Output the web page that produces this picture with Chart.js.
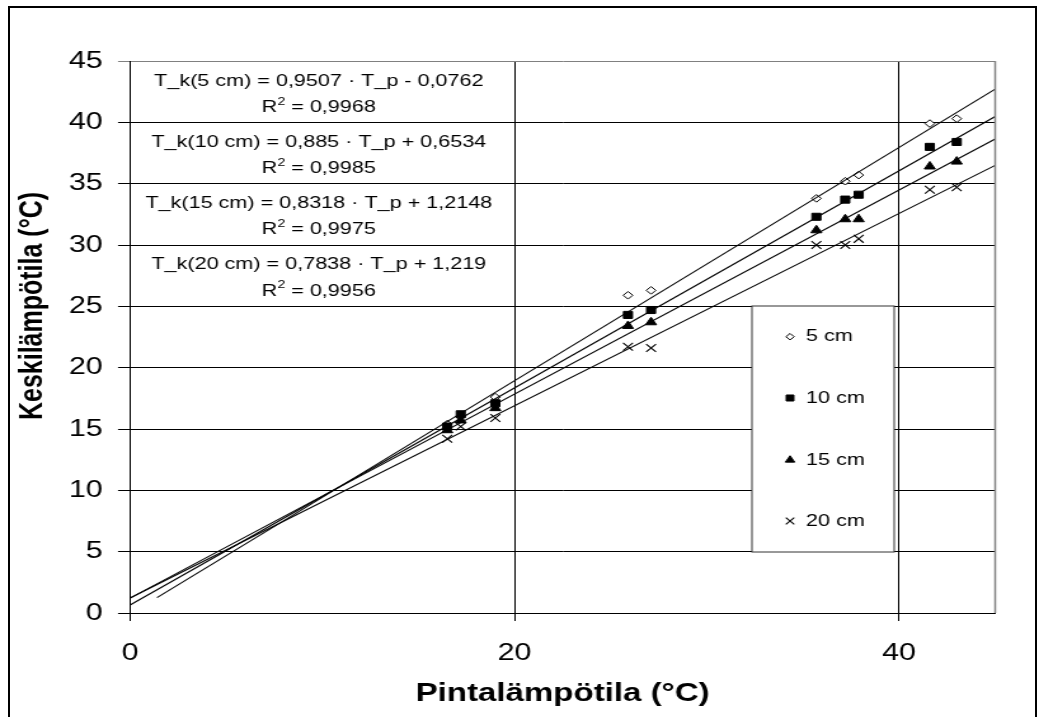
<!DOCTYPE html>
<html>
<head>
<meta charset="utf-8">
<script src="https://cdn.jsdelivr.net/npm/chart.js@4/dist/chart.umd.min.js"></script>
<style>
  html, body { margin: 0; padding: 0; background: #fff; }
  #wrap { position: relative; width: 1039px; height: 717px; overflow: hidden; }
  #frame { position: absolute; left: 8px; top: 6px; width: 1029px; height: 760px; border: 2px solid #000; box-sizing: border-box; pointer-events: none; }
  #chart { position: absolute; left: 0; top: 0; width: 1039px; height: 717px; }
</style>
</head>
<body>
<div id="wrap">
  <canvas id="chart" width="818" height="717" style="width:1039px;height:717px"></canvas>
  <div id="frame"></div>
</div>
<script>
// pintalämpötila (x) ja keskilämpötila eri syvyyksillä (y)
const surfaceTemp = [16.5, 17.2, 19.0, 25.9, 27.1, 35.7, 37.2, 37.9, 41.6, 43.0];
const depth5  = [15.4, 16.0, 17.6, 25.9, 26.3, 33.8, 35.2, 35.7, 39.9, 40.3];
const depth10 = [15.2, 16.2, 17.1, 24.3, 24.7, 32.3, 33.7, 34.1, 38.0, 38.4];
const depth15 = [14.9, 15.7, 16.7, 23.4, 23.7, 31.2, 32.1, 32.1, 36.4, 36.8];
const depth20 = [14.2, 15.2, 15.9, 21.7, 21.6, 30.0, 30.0, 30.5, 34.5, 34.7];

const seriesLabels = ['5 cm', '10 cm', '15 cm', '20 cm'];
const slopes = [0.9507, 0.885, 0.8318, 0.7838];
const intercepts = [-0.0762, 0.6534, 1.2148, 1.219];
const rSquared = ['0,9968', '0,9985', '0,9975', '0,9956'];
const trendStart = [1.4, 0, 0, 0];
const trendEnd = [45, 45, 45, 45];

const xTicks = [0, 20, 40];
const yTicks = [0, 5, 10, 15, 20, 25, 30, 35, 40, 45];

const FONT = '"Liberation Sans", Arial, sans-serif';

const markers = [
    { pointStyle: 'rectRot', radius: 3.8, bg: '#fff', borderWidth: 1 },
    { pointStyle: 'rect', radius: 5, bg: '#000', borderWidth: 1 },
    { pointStyle: 'triangle', radius: 5, bg: '#000', borderWidth: 1 },
    { pointStyle: 'crossRot', radius: 5.5, bg: '#000', borderWidth: 1.1 }
];

const depthSeries = [depth5, depth10, depth15, depth20];

const fmt = (v) => String(v).replace('.', ',');

const datasets = [];
depthSeries.forEach((values, i) => {
    datasets.push({
        label: seriesLabels[i],
        data: values.map((v, j) => ({ x: surfaceTemp[j], y: v })),
        pointStyle: markers[i].pointStyle,
        pointRadius: markers[i].radius,
        pointBackgroundColor: markers[i].bg,
        pointBorderColor: '#000',
        pointBorderWidth: markers[i].borderWidth,
        showLine: false,
        order: 4 - i
    });
});
// trendiviivat yhtälöistä
slopes.forEach((k, i) => {
    datasets.push({
        label: 'trend ' + seriesLabels[i],
        data: [
            { x: trendStart[i], y: k * trendStart[i] + intercepts[i] },
            { x: trendEnd[i], y: k * trendEnd[i] + intercepts[i] }
        ],
        showLine: true,
        borderColor: '#000',
        borderWidth: 1.1,
        pointRadius: 0,
        order: 0
    });
});

function drawR2(ctx, cx, cy, value) {
    const main = '17px ' + FONT;
    const sup = '11px ' + FONT;
    ctx.font = main;
    const wR = ctx.measureText('R').width;
    const wRest = ctx.measureText(' = ' + value).width;
    ctx.font = sup;
    const w2 = ctx.measureText('2').width;
    let x = cx - (wR + w2 + wRest) / 2;
    ctx.textAlign = 'left';
    ctx.textBaseline = 'middle';
    ctx.font = main;
    ctx.fillText('R', x, cy);
    x += wR;
    ctx.font = sup;
    ctx.fillText('2', x, cy - 6);
    x += w2;
    ctx.font = main;
    ctx.fillText(' = ' + value, x, cy);
}

const overlayPlugin = {
    id: 'overlay',
    afterDraw(chart) {
        const ctx = chart.ctx;
        const area = chart.chartArea;
        ctx.save();

        // kuva-alueen oikea reuna
        ctx.strokeStyle = '#808080';
        ctx.lineWidth = 1.5;
        ctx.beginPath();
        ctx.moveTo(area.right, area.top);
        ctx.lineTo(area.right, area.bottom);
        ctx.stroke();

        // y-akselin otsikko
        ctx.fillStyle = '#000';
        ctx.translate(26, 306);
        ctx.rotate(-Math.PI / 2);
        ctx.font = 'bold 25px ' + FONT;
        ctx.textAlign = 'center';
        ctx.textBaseline = 'middle';
        ctx.fillText('Keskilämpötila (°C)', 0, 0);
        ctx.restore();

        // yhtälöt
        ctx.save();
        ctx.fillStyle = '#000';
        const eqX = 251;
        const rowTops = [20, 81, 142, 203.5];
        slopes.forEach((k, i) => {
            const b = intercepts[i];
            const sign = b < 0 ? ' - ' : ' + ';
            const text = 'T_k(' + seriesLabels[i] + ') = ' + fmt(k) + ' · T_p' + sign + fmt(Math.abs(b));
            ctx.font = '17px ' + FONT;
            ctx.textAlign = 'center';
            ctx.textBaseline = 'middle';
            ctx.fillText(text, eqX, area.top + rowTops[i]);
            drawR2(ctx, eqX, area.top + rowTops[i] + 26.5, rSquared[i]);
        });

        // selite
        const box = { left: 592, top: 306, right: 704, bottom: 552 };
        ctx.fillStyle = '#fff';
        ctx.fillRect(box.left, box.top, box.right - box.left, box.bottom - box.top);
        ctx.strokeStyle = '#333';
        ctx.lineWidth = 1;
        ctx.strokeRect(box.left, box.top, box.right - box.left, box.bottom - box.top);
        const rowY = [336.7, 398, 460, 521];
        seriesLabels.forEach((label, i) => {
            const m = markers[i];
            ctx.fillStyle = m.bg;
            ctx.strokeStyle = '#000';
            ctx.lineWidth = m.borderWidth;
            Chart.helpers.drawPoint(ctx, {
                pointStyle: m.pointStyle,
                radius: m.radius * 0.85,
                rotation: 0,
                borderWidth: m.borderWidth
            }, 622, rowY[i]);
            ctx.fillStyle = '#000';
            ctx.font = '17px ' + FONT;
            ctx.textAlign = 'left';
            ctx.textBaseline = 'middle';
            ctx.fillText(label, 634.5, rowY[i]);
        });
        ctx.restore();
    }
};

new Chart(document.getElementById('chart'), {
    type: 'scatter',
    data: { datasets: datasets },
    options: {
        responsive: false,
        devicePixelRatio: 1,
        animation: false,
        layout: { padding: { left: 0, right: 34.5, top: 61, bottom: 0 } },
        plugins: {
            legend: { display: false },
            tooltip: { enabled: false }
        },
        scales: {
            x: {
                type: 'linear',
                min: 0,
                max: 45,
                afterBuildTicks: (scale) => { scale.ticks = xTicks.map(v => ({ value: v })); },
                afterFit: (scale) => { scale.height = 104; },
                ticks: {
                    color: '#000',
                    font: { family: FONT, size: 24 },
                    padding: 18,
                    maxRotation: 0
                },
                grid: { color: '#000', lineWidth: 1, tickLength: 8 },
                border: { color: '#000', width: 1 },
                title: {
                    display: true,
                    text: 'Pintalämpötila (°C)',
                    color: '#000',
                    font: { family: FONT, size: 26, weight: 'bold' },
                    padding: { top: 0, bottom: 8 }
                }
            },
            y: {
                type: 'linear',
                min: 0,
                max: 45,
                afterBuildTicks: (scale) => { scale.ticks = yTicks.map(v => ({ value: v })); },
                afterFit: (scale) => { scale.width = 102.4; },
                ticks: {
                    color: '#000',
                    font: { family: FONT, size: 24 },
                    padding: 12
                },
                grid: {
                    color: (c) => (c.tick && c.tick.value === 45 ? '#808080' : '#000'),
                    lineWidth: 1,
                    tickLength: 9.5
                },
                border: { color: '#000', width: 1 }
            }
        }
    },
    plugins: [overlayPlugin]
});
</script>
</body>
</html>
